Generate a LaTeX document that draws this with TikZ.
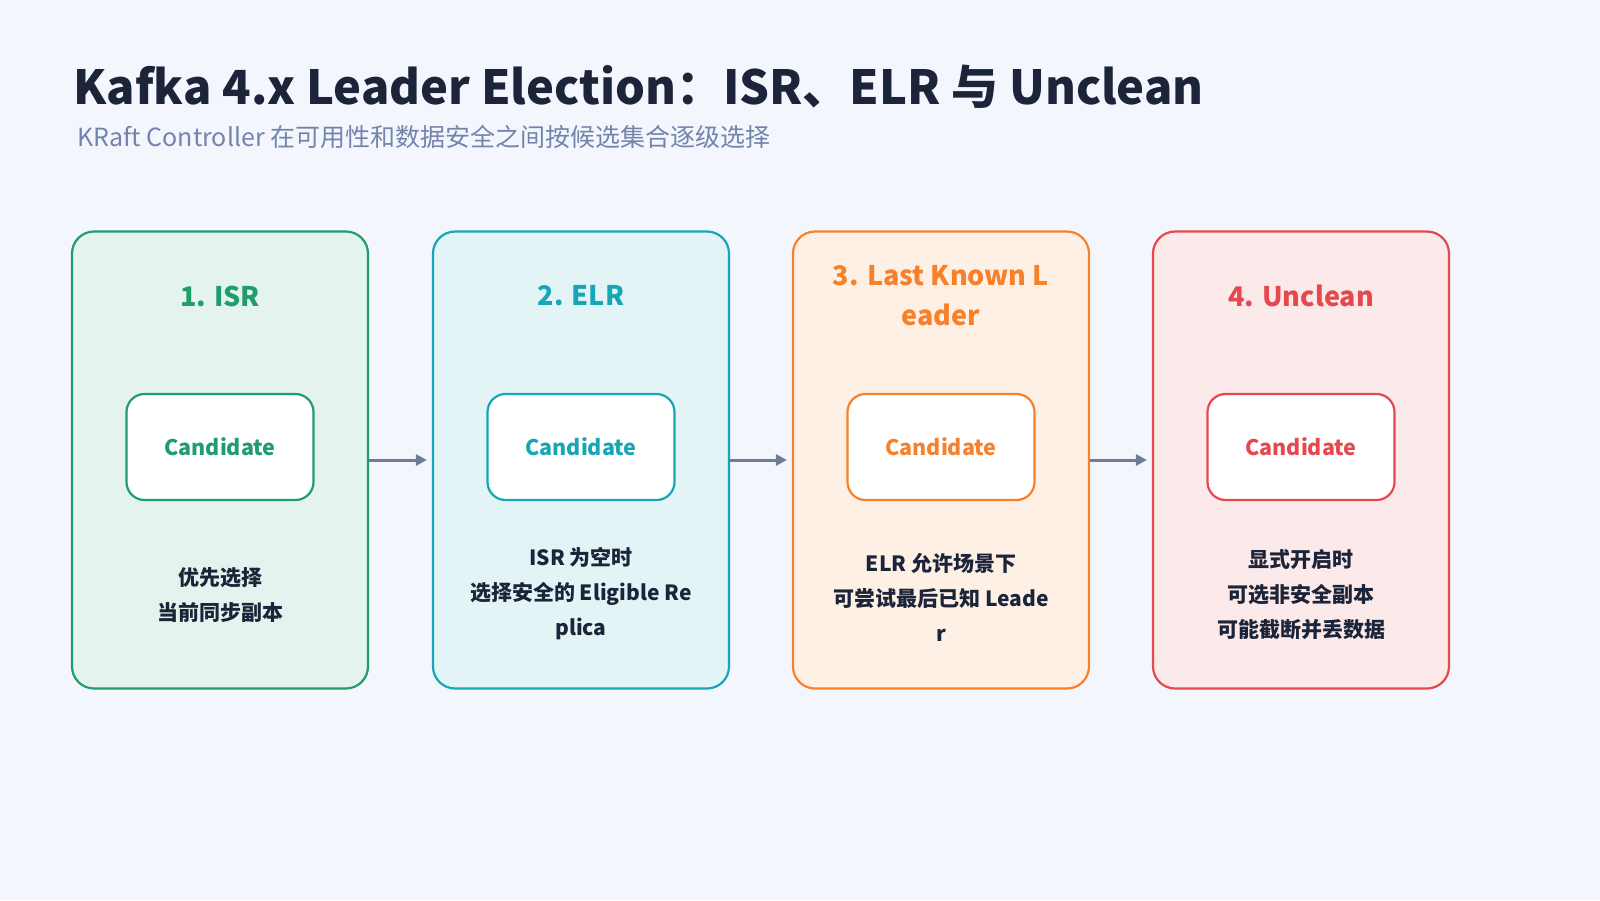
\documentclass[tikz,border=0pt]{standalone}
\usepackage{fontspec}
\setmainfont{Noto Sans CJK SC}
\usetikzlibrary{arrows.meta, positioning}
\definecolor{pagebg}{HTML}{F3F7FD}
\definecolor{titleink}{HTML}{1B2438}
\definecolor{subink}{HTML}{7384AC}
\definecolor{isrgreen}{HTML}{1F9D6C}
\definecolor{elrteal}{HTML}{16A6B6}
\definecolor{lklorange}{HTML}{F7812A}
\definecolor{uncred}{HTML}{E5484D}
\definecolor{flowgray}{HTML}{6E7C94}

\begin{document}
\begin{tikzpicture}[
    x=1pt, y=-1pt,
    stage/.style={rectangle, draw=#1, fill=#1!12, line width=2.2pt, rounded corners=22pt,
        minimum width=296pt, minimum height=457pt, inner sep=0pt},
    cand/.style={rectangle, draw=#1, fill=white, line width=2.2pt, rounded corners=18pt,
        minimum width=187pt, minimum height=106pt, text=#1, font=\bfseries\fontsize{21.5}{25}\selectfont},
    head/.style={text=#1, align=center, font=\bfseries\fontsize{27}{40}\selectfont},
    note/.style={align=center, text=titleink, font=\bfseries\fontsize{21}{35}\selectfont},
    flow/.style={-{Triangle[length=11pt,width=11pt]}, line width=3pt, draw=flowgray, shorten >=5pt}
]
    \fill[pagebg] (0,0) rectangle (1600,900);

    % Title
    \node[anchor=west, text=titleink, font=\bfseries\fontsize{47}{56}\selectfont] (title) at (70,87) {Kafka 4.x Leader Election：ISR、ELR 与 Unclean};
    \node[anchor=west, text=subink, font=\fontsize{25}{30}\selectfont] (subtitle) at (74,137) {KRaft Controller 在可用性和数据安全之间按候选集合逐级选择};

    % Stages
    \node[stage=isrgreen] (isr) at (220,460) {};
    \node[stage=elrteal] (elr) at (581,460) {};
    \node[stage=lklorange] (lkl) at (941,460) {};
    \node[stage=uncred] (unc) at (1301,460) {};

    \node[head=isrgreen] (isrhead) at (220,296) {1. ISR};
    \node[head=elrteal] (elrhead) at (581,296) {2. ELR};
    \node[head=lklorange] (lklhead) at (941,296) {3. Last Known L\\eader};
    \node[head=uncred] (unchead) at (1301,296) {4. Unclean};

    \node[cand=isrgreen] (isrcand) at (220,447) {Candidate};
    \node[cand=elrteal] (elrcand) at (581,447) {Candidate};
    \node[cand=lklorange] (lklcand) at (941,447) {Candidate};
    \node[cand=uncred] (unccand) at (1301,447) {Candidate};

    \node[note] (isrnote) at (220,595) {优先选择\\当前同步副本};
    \node[note] (elrnote) at (581,594) {ISR 为空时\\选择安全的 Eligible Re\\plica};
    \node[note] (lklnote) at (941,597) {ELR 允许场景下\\可尝试最后已知 Leade\\r};
    \node[note] (uncnote) at (1301,595) {显式开启时\\可选非安全副本\\可能截断并丢数据};

    % Flow
    \draw[flow] (isr.east |- 0,460) -- (elr.west |- 0,460);
    \draw[flow] (elr.east |- 0,460) -- (lkl.west |- 0,460);
    \draw[flow] (lkl.east |- 0,460) -- (unc.west |- 0,460);
\end{tikzpicture}
\end{document}
